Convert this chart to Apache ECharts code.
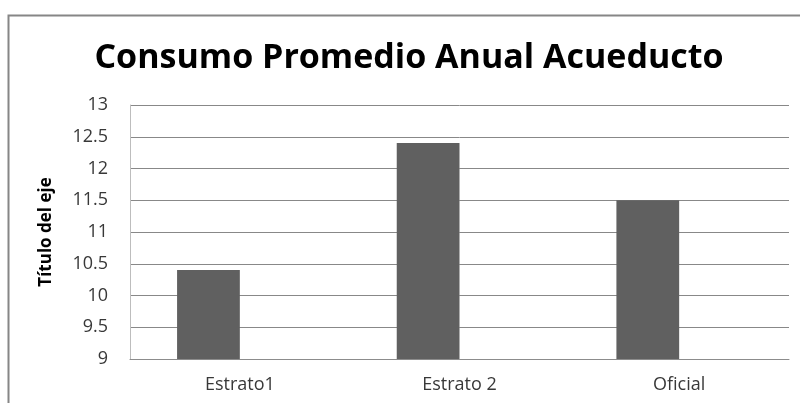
<!DOCTYPE html>
<html>
<head>
<meta charset="utf-8">
<script src="https://cdn.jsdelivr.net/npm/echarts@6/dist/echarts.min.js"></script>
<style>html,body{margin:0;padding:0;background:#fff;}#c{width:800px;height:403px;}</style>
</head>
<body>
<div id="c"></div>
<script>
const titleText = 'Consumo Promedio Anual Acueducto';
const axisTitle = 'Título del eje';
const categories = ['Estrato1', 'Estrato 2', 'Oficial'];
const values = [10.4, 12.4, 11.5];
const emptySeries = [null, null, null];

const chart = echarts.init(document.getElementById('c'), null, {renderer: 'canvas'});
chart.setOption({
  animation: false,
  backgroundColor: '#ffffff',
  grid: {left: 130, top: 105, right: 11, bottom: 44, containLabel: false},
  graphic: [
    {type: 'rect', shape: {x: 8.5, y: 15.5, width: 900, height: 500}, style: {fill: 'none', stroke: '#868686', lineWidth: 2}, silent: true},
    {type: 'text', x: 409, y: 58, style: {text: titleText, font: 'bold 34px "Open Sans"', fill: '#000', textAlign: 'center', textVerticalAlign: 'middle'}}
  ],
  xAxis: {
    type: 'category',
    data: categories,
    axisLine: {show: true, lineStyle: {color: '#8c8c8c', width: 1}},
    axisTick: {show: false},
    axisLabel: {color: '#383838', fontSize: 18, fontFamily: 'Open Sans', margin: 17},
    splitLine: {show: false}
  },
  yAxis: {
    type: 'value',
    min: 9, max: 13, interval: 0.5,
    name: axisTitle,
    nameLocation: 'middle',
    nameGap: 75,
    nameRotate: 90,
    nameTextStyle: {color: '#000', fontSize: 17, fontWeight: 'bold', fontFamily: 'Open Sans'},
    axisLine: {show: true, lineStyle: {color: '#bdbdbd', width: 1}},
    axisTick: {show: false},
    axisLabel: {color: '#383838', fontSize: 18, fontFamily: 'Open Sans', margin: 22},
    splitLine: {show: true, lineStyle: {color: '#888888', width: 1}}
  },
  series: [
    {type: 'bar', data: values, itemStyle: {color: '#606060'}, barGap: '0%', barCategoryGap: '42.86%'},
    {type: 'bar', data: emptySeries, itemStyle: {color: '#a0a0a0'}}
  ]
});
</script>
</body>
</html>
